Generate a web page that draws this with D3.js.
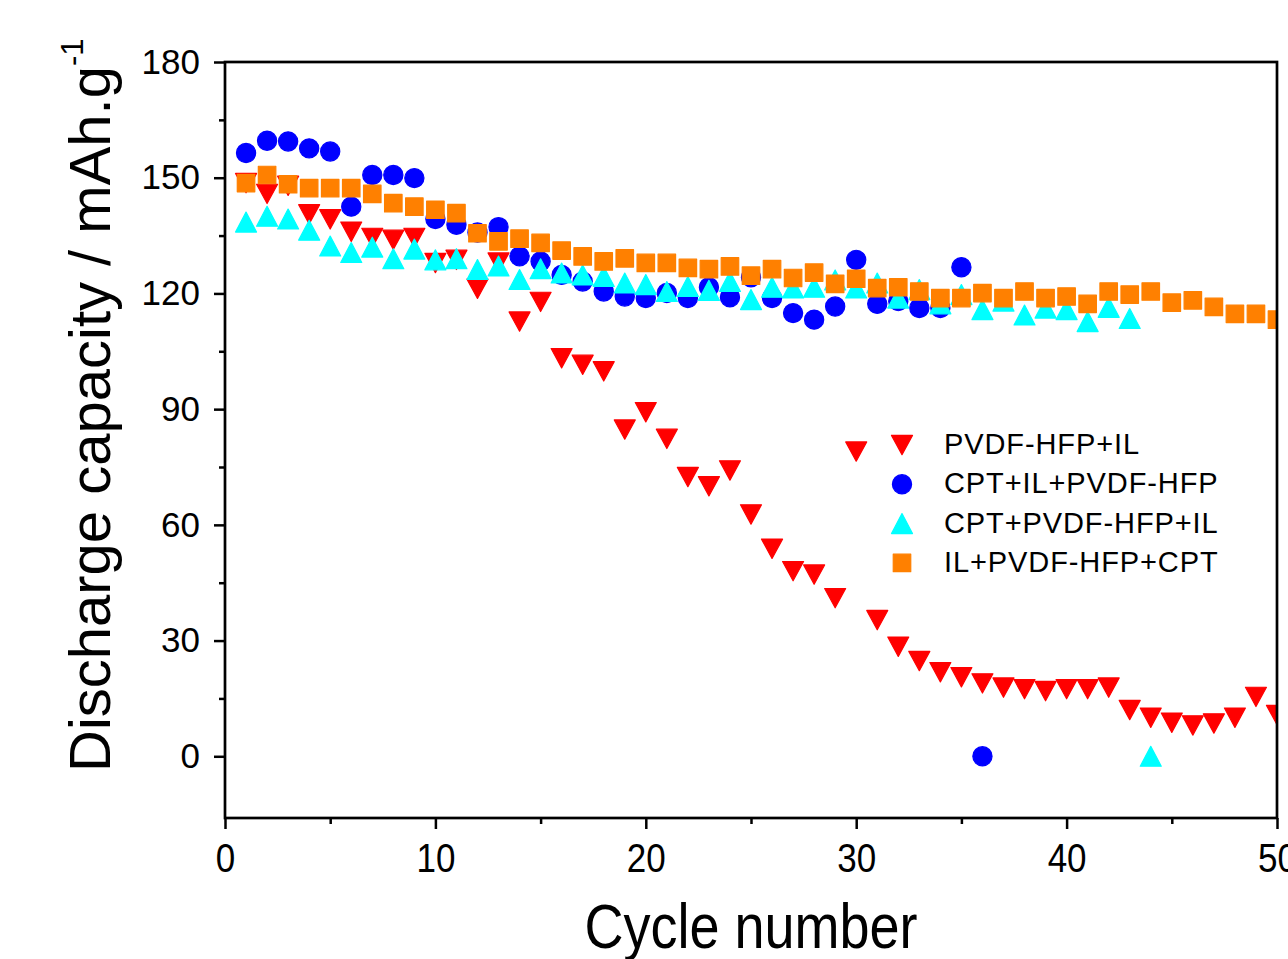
<!DOCTYPE html>
<html>
<head>
<meta charset="utf-8">
<script src="https://cdn.jsdelivr.net/npm/d3@7"></script>
<style>
  body { margin: 0; background: #fff; }
  svg { display: block; font-family: "Liberation Sans", Arial, sans-serif; }
</style>
</head>
<body>
<div id="chart"></div>
<script>
// cycle numbers
const cycles = d3.range(1, 51);

const seriesNames = ['PVDF-HFP+IL', 'CPT+IL+PVDF-HFP', 'CPT+PVDF-HFP+IL', 'IL+PVDF-HFP+CPT'];

// PVDF-HFP+IL (red, down triangles)
const pvdfIL = [148.6, 145.8, 147.9, 140.5, 139.2, 136, 134.4, 133.9, 134.4, 127.9,
  128.7, 121.2, 128, 112.7, 117.8, 103.2, 101.5, 99.8, 84.7, 89.2,
  82.3, 72.4, 70, 74.1, 62.7, 53.8, 48, 47.1, 41, 79,
  35.3, 28.4, 24.7, 21.8, 20.5, 18.9, 17.8, 17.4, 16.9, 17.4,
  17.4, 17.8, 12, 10, 8.7, 8, 8.5, 10, 15.4, 10.7];

// CPT+IL+PVDF-HFP (blue circles)
const cptILpvdf = [156.4, 159.6, 159.4, 157.6, 156.8, 142.5, 150.7, 150.7, 149.9, 139.3,
  137.8, 135.8, 137.2, 129.6, 128.3, 124.8, 123.1, 120.5, 119.2, 118.8,
  120.1, 118.8, 121.6, 119, 124.2, 118.8, 114.9, 113.2, 116.6, 128.7,
  117.3, 118, 116.2, 116.2, 126.8, 0];

// CPT+PVDF-HFP+IL (cyan up triangles)
const cptPvdfIL = [138.5, 140, 139.3, 136.4, 132.3, 130.6, 132, 129, 131.5, 128.7,
  129, 126.2, 127.1, 123.6, 126.4, 125.3, 124.8, 124.4, 122.7, 122.3,
  120.5, 121.8, 120.8, 123.1, 118.4, 121.6, 121.4, 121.6, 123.5, 121.4,
  122.7, 118.8, 121, 117.3, 119.7, 115.8, 118, 114.4, 116.2, 115.8,
  112.7, 116.4, 113.5, 0];

// IL+PVDF-HFP+CPT (orange squares)
const ilPvdfCpt = [148.6, 150.7, 148.3, 147.3, 147.3, 147.3, 145.8, 143.4, 142.5, 141.7,
  140.8, 135.6, 133.5, 134.2, 133.1, 131.1, 129.6, 128.3, 129.1, 127.9,
  127.9, 126.6, 126.3, 127, 124.6, 126.3, 124, 125.4, 122.5, 123.8,
  121.4, 121.6, 120.5, 118.8, 118.8, 120.1, 118.8, 120.5, 118.8, 119.2,
  117.3, 120.5, 119.7, 120.5, 117.6, 118.2, 116.5, 114.7, 114.7, 113.2];

const xTicks = [0, 10, 20, 30, 40, 50];
const yTicks = [0, 30, 60, 90, 120, 150, 180];

const width = 1288, height = 959;
const margin = {top: 62, right: 11, bottom: 141, left: 225};

const svg = d3.select('#chart').append('svg')
  .attr('width', width)
  .attr('height', height);

svg.append('rect').attr('width', width).attr('height', height).attr('fill', '#fff');

const x = d3.scaleLinear()
  .domain([0, 50])
  .range([margin.left, width - margin.right]);

const y = d3.scaleLinear()
  .domain([-16, 180])
  .range([height - margin.bottom, margin.top]);

// triangle symbols centred on their bounding box
const triDown = {
  draw(ctx, size) {
    const w = Math.sqrt(size), h = w * 0.92;
    ctx.moveTo(-w / 2, -h / 2);
    ctx.lineTo(w / 2, -h / 2);
    ctx.lineTo(0, h / 2);
    ctx.closePath();
  }
};
const triUp = {
  draw(ctx, size) {
    const w = Math.sqrt(size), h = w * 0.95;
    ctx.moveTo(-w / 2, h / 2);
    ctx.lineTo(w / 2, h / 2);
    ctx.lineTo(0, -h / 2);
    ctx.closePath();
  }
};

const series = [
  {name: seriesNames[0], values: pvdfIL, color: '#ff0000', type: triDown, size: 21 * 21},
  {name: seriesNames[1], values: cptILpvdf, color: '#0000ff', type: d3.symbolCircle, size: Math.PI * 9.6 * 9.6},
  {name: seriesNames[2], values: cptPvdfIL, color: '#00ffff', type: triUp, size: 21 * 21},
  {name: seriesNames[3], values: ilPvdfCpt, color: '#ff8000', type: d3.symbolSquare, size: 17.5 * 17.5}
];

// axes
const yAxis = svg.append('g')
  .attr('transform', `translate(${margin.left},0)`)
  .call(d3.axisLeft(y).tickValues(yTicks).tickSize(11).tickPadding(14));
svg.append('g')
  .attr('transform', `translate(${margin.left},0)`)
  .call(d3.axisLeft(y).tickValues([15, 45, 75, 105, 135, 165]).tickSize(6).tickFormat(''));

const xAxis = svg.append('g')
  .attr('transform', `translate(0,${height - margin.bottom})`)
  .call(d3.axisBottom(x).tickValues(xTicks).tickSize(11));
svg.append('g')
  .attr('transform', `translate(0,${height - margin.bottom})`)
  .call(d3.axisBottom(x).tickValues([5, 15, 25, 35, 45]).tickSize(6).tickFormat(''));

svg.selectAll('.domain').remove();
svg.selectAll('.tick line').attr('stroke', '#000').attr('stroke-width', 2.5);

yAxis.selectAll('text')
  .attr('font-size', 35)
  .attr('fill', '#000')
  .attr('font-family', '"Liberation Sans", Arial, sans-serif');

xAxis.selectAll('text')
  .attr('font-size', 35)
  .attr('fill', '#000')
  .attr('font-family', '"Liberation Sans", Arial, sans-serif')
  .attr('y', 46.4)
  .attr('dy', 0)
  .attr('transform', 'scale(1,1.17)');

// plot
svg.append('clipPath').attr('id', 'plotclip')
  .append('rect')
  .attr('x', margin.left).attr('y', margin.top)
  .attr('width', width - margin.left - margin.right)
  .attr('height', height - margin.top - margin.bottom);

const plot = svg.append('g').attr('clip-path', 'url(#plotclip)');

series.forEach(s => {
  plot.append('g')
    .selectAll('path')
    .data(s.values)
    .join('path')
    .attr('transform', (d, i) => `translate(${x(cycles[i])},${y(d)})`)
    .attr('d', d3.symbol().type(s.type).size(s.size))
    .attr('fill', s.color)
    .attr('stroke', s.color)
    .attr('stroke-width', 1.2)
    .attr('stroke-linejoin', 'round');
});

// frame
svg.append('rect')
  .attr('x', margin.left).attr('y', margin.top)
  .attr('width', width - margin.left - margin.right)
  .attr('height', height - margin.top - margin.bottom)
  .attr('fill', 'none')
  .attr('stroke', '#000')
  .attr('stroke-width', 2.7);

// legend
const legend = svg.append('g');
series.forEach((s, i) => {
  const ly = 445 + i * 39.3;
  legend.append('path')
    .attr('transform', `translate(902,${ly})`)
    .attr('d', d3.symbol().type(s.type).size(s.size))
    .attr('fill', s.color)
    .attr('stroke', s.color)
    .attr('stroke-width', 1.2)
    .attr('stroke-linejoin', 'round');
  legend.append('text')
    .attr('x', 944)
    .attr('y', ly + 9)
    .attr('font-size', 29)
    .attr('letter-spacing', 0.9)
    .attr('fill', '#000')
    .text(s.name);
});

// axis titles
svg.append('text')
  .attr('transform', `translate(${(margin.left + width - margin.right) / 2},948) scale(1,1.17)`)
  .attr('text-anchor', 'middle')
  .attr('font-size', 54)
  .attr('fill', '#000')
  .text('Cycle number');

const yt = svg.append('text')
  .attr('transform', 'translate(110,772) rotate(-90)')
  .attr('font-size', 58)
  .attr('fill', '#000');
yt.append('tspan').text('Discharge capacity / mAh.g');
yt.append('tspan').attr('font-size', 31).attr('dy', -27).text('-1');
</script>
</body>
</html>
